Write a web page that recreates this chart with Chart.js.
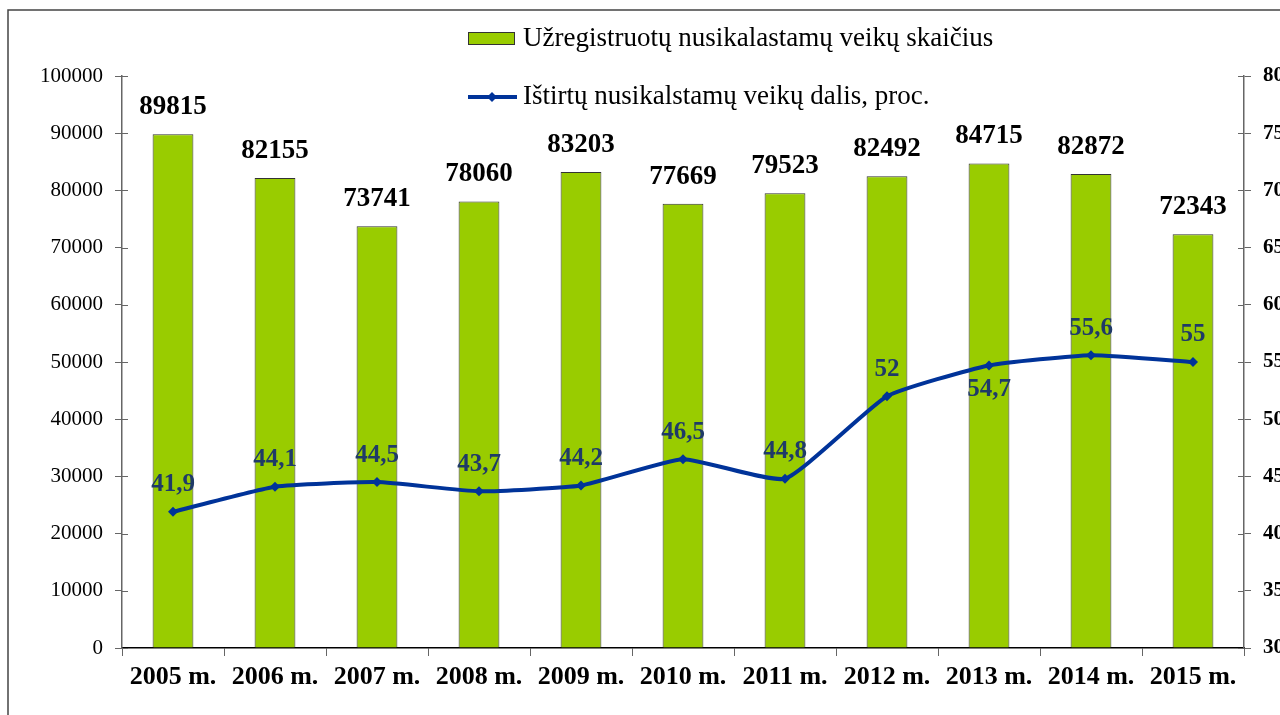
<!DOCTYPE html>
<html>
<head>
<meta charset="utf-8">
<script src="https://cdn.jsdelivr.net/npm/chart.js@4"></script>
<style>
  body { margin: 0; background: #fff; }
  #wrap { width: 1280px; height: 715px; position: relative; }
</style>
</head>
<body>
<div id="wrap"><canvas id="chart"></canvas></div>
<script>
// data
const years = ['2005 m.', '2006 m.', '2007 m.', '2008 m.', '2009 m.', '2010 m.',
               '2011 m.', '2012 m.', '2013 m.', '2014 m.', '2015 m.'];
const registered = [89815, 82155, 73741, 78060, 83203, 77669, 79523, 82492, 84715, 82872, 72343];
const solvedShare = [41.9, 44.1, 44.5, 43.7, 44.2, 46.5, 44.8, 52, 54.7, 55.6, 55];
// which line labels sit under the point instead of above it
const labelBelow = [false, false, false, false, false, false, false, false, true, false, false];

const barLabel = 'Užregistruotų nusikalastamų veikų skaičius';
const lineLabel = 'Ištirtų nusikalstamų veikų dalis, proc.';

const serif = '"Liberation Serif", "Times New Roman", serif';
const green = '#99CC00';
const blue = '#003399';
const navy = '#1F3A68';

// frame, crossing axis ticks, value labels and the legend
const extras = {
    id: 'extras',
    beforeDraw(chart) {
        const ctx = chart.ctx;
        ctx.save();
        ctx.strokeStyle = '#444';
        ctx.lineWidth = 1.5;
        ctx.beginPath();
        ctx.moveTo(8, 715);
        ctx.lineTo(8, 10);
        ctx.lineTo(1280, 10);
        ctx.stroke();
        ctx.restore();
    },
    afterDatasetsDraw(chart) {
        const ctx = chart.ctx;
        ctx.save();

        // inner half of the y tick marks
        ctx.strokeStyle = '#666';
        ctx.lineWidth = 1;
        ['y', 'y1'].forEach(id => {
            const sc = chart.scales[id];
            const x = id === 'y' ? sc.right : sc.left;
            const dir = id === 'y' ? 1 : -1;
            sc.ticks.forEach((t, i) => {
                const py = Math.round(sc.getPixelForTick(i)) + 0.5;
                ctx.beginPath();
                ctx.moveTo(x, py);
                ctx.lineTo(x + dir * 6, py);
                ctx.stroke();
            });
        });

        // bar values
        const barMeta = chart.getDatasetMeta(0);
        ctx.fillStyle = '#000';
        ctx.font = 'bold 27px ' + serif;
        ctx.textAlign = 'center';
        ctx.textBaseline = 'middle';
        barMeta.data.forEach((bar, i) => {
            ctx.fillText(String(registered[i]), bar.x, bar.y - 27);
        });

        // line values
        const lineMeta = chart.getDatasetMeta(1);
        ctx.fillStyle = navy;
        ctx.font = 'bold 25px ' + serif;
        lineMeta.data.forEach((pt, i) => {
            const txt = String(solvedShare[i]).replace('.', ',');
            const y = labelBelow[i] ? pt.y + 24 : pt.y - 27;
            ctx.fillText(txt, pt.x, y);
        });

        // legend
        ctx.fillStyle = green;
        ctx.fillRect(468, 32, 47, 13);
        ctx.strokeStyle = '#333';
        ctx.lineWidth = 1;
        ctx.strokeRect(468.5, 32.5, 46, 12);

        ctx.strokeStyle = blue;
        ctx.lineWidth = 4;
        ctx.beginPath();
        ctx.moveTo(468, 97);
        ctx.lineTo(517, 97);
        ctx.stroke();
        ctx.fillStyle = blue;
        ctx.beginPath();
        ctx.moveTo(492, 92);
        ctx.lineTo(497, 97);
        ctx.lineTo(492, 102);
        ctx.lineTo(487, 97);
        ctx.closePath();
        ctx.fill();

        ctx.fillStyle = '#000';
        ctx.font = '27px ' + serif;
        ctx.textAlign = 'left';
        ctx.fillText(barLabel, 523, 39);
        ctx.fillText(lineLabel, 523, 97);
        ctx.restore();
    }
};

new Chart(document.getElementById('chart'), {
    data: {
        labels: years,
        datasets: [
            {
                type: 'bar',
                label: barLabel,
                data: registered,
                yAxisID: 'y',
                backgroundColor: green,
                borderColor: '#333',
                borderWidth: 1,
                categoryPercentage: 1,
                barPercentage: 0.4,
                order: 2
            },
            {
                type: 'line',
                label: lineLabel,
                data: solvedShare,
                yAxisID: 'y1',
                borderColor: blue,
                backgroundColor: blue,
                borderWidth: 4,
                tension: 0.15,
                pointStyle: 'rectRot',
                pointRadius: 5,
                pointBackgroundColor: blue,
                pointBorderWidth: 0,
                order: 1
            }
        ]
    },
    options: {
        responsive: true,
        maintainAspectRatio: false,
        animation: false,
        layout: { padding: { top: 76, left: 0, right: 0, bottom: 0 } },
        plugins: {
            legend: { display: false },
            tooltip: { enabled: false }
        },
        scales: {
            x: {
                offset: true,
                afterFit: s => { s.height = 67; },
                grid: {
                    offset: true,
                    drawOnChartArea: false,
                    tickLength: 8,
                    color: '#666'
                },
                border: { color: '#000', width: 1.5 },
                ticks: {
                    color: '#000',
                    padding: 6,
                    maxRotation: 0,
                    font: { family: serif, size: 26, weight: 'bold' }
                }
            },
            y: {
                position: 'left',
                min: 0,
                max: 100000,
                afterFit: s => { s.width = 122; },
                grid: { drawOnChartArea: false, tickLength: 7, color: '#666' },
                border: { color: '#666', width: 1.5 },
                ticks: {
                    stepSize: 10000,
                    color: '#000',
                    padding: 12,
                    callback: v => String(v),
                    font: { family: serif, size: 21 }
                }
            },
            y1: {
                position: 'right',
                min: 30,
                max: 80,
                afterFit: s => { s.width = 36; },
                grid: { drawOnChartArea: false, tickLength: 7, color: '#666' },
                border: { color: '#666', width: 1.5 },
                ticks: {
                    stepSize: 5,
                    color: '#000',
                    padding: 12,
                    font: { family: serif, size: 21, weight: 'bold' }
                }
            }
        }
    },
    plugins: [extras]
});
</script>
</body>
</html>
